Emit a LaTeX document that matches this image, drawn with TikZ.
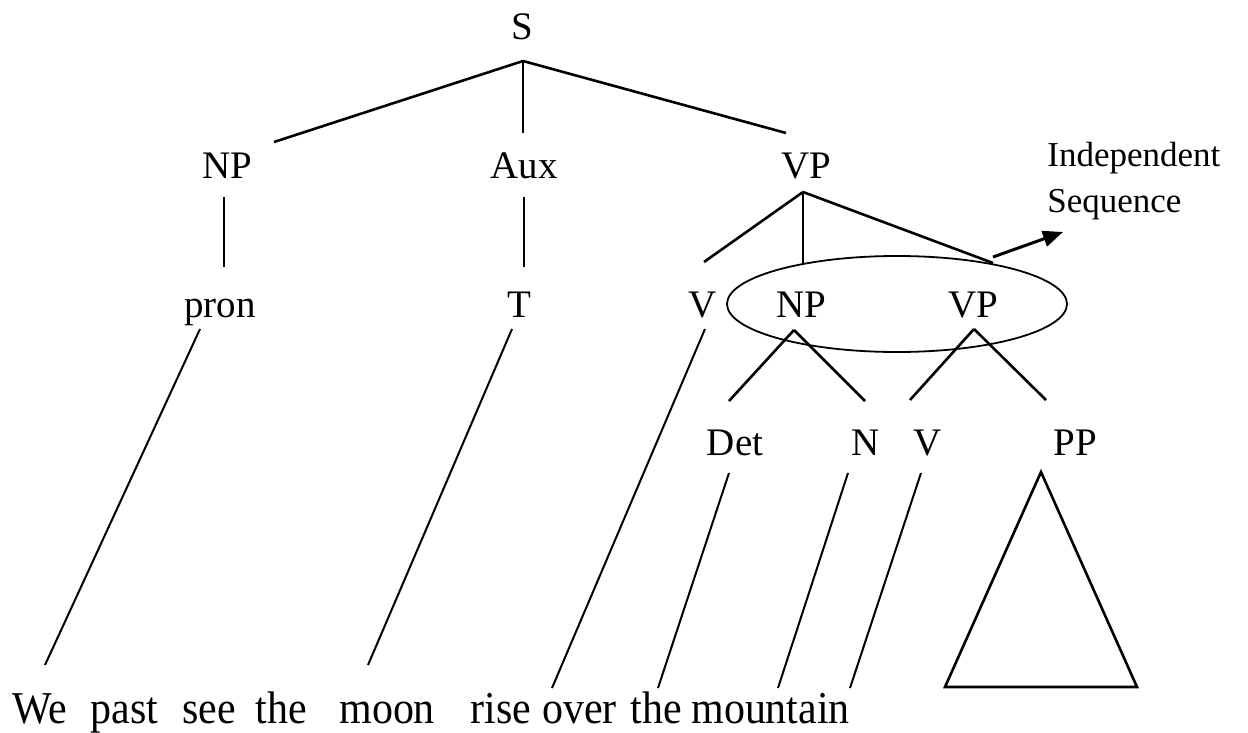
\documentclass[tikz,border=0pt]{standalone}
\usepackage{fontspec}
\setmainfont{Liberation Serif}
\newfontfamily\treefont{Liberation Serif}
\newfontfamily\wordfont[FakeStretch=0.92]{Liberation Serif}
\usetikzlibrary{arrows.meta}

\begin{document}
\begin{tikzpicture}[x=0.5pt,y=-0.5pt]

  \useasboundingbox (0,0) rectangle (1248,733);

  \tikzstyle{cat}=[inner sep=0pt,anchor=base,
                   font=\treefont\fontsize{19.5}{22}\selectfont];
  \tikzstyle{word}=[inner sep=0pt,anchor=base west,
                    font=\wordfont\fontsize{22.8}{26}\selectfont];
  \tikzstyle{note}=[inner sep=0pt,anchor=north west,align=left,
                    font=\treefont\fontsize{17.5}{23}\selectfont];
  \tikzstyle{branch}=[line width=1.3pt];
  \tikzstyle{link}=[line width=1pt];

  % attachment points of the branches
  \coordinate (S-dn) at (523,61);
  \coordinate (NP-up) at (274,142);
  \coordinate (Aux-up) at (523,133);
  \coordinate (VP-up) at (786,133);
  \coordinate (NP-dn) at (224,197);
  \coordinate (Pron-up) at (224,267);
  \coordinate (Aux-dn) at (524,197);
  \coordinate (T-up) at (524,267);
  \coordinate (VP-dn) at (803,192);
  \coordinate (V-up) at (704,262);
  \coordinate (NPb-up) at (803,263);
  \coordinate (Seq-up) at (993,263);
  \coordinate (Seq-out) at (993,257);
  \coordinate (Note-in) at (1063,232);
  \coordinate (NPb-dn) at (794,330);
  \coordinate (Det-up) at (729,401);
  \coordinate (N-up) at (865,401);
  \coordinate (VPb-dn) at (974,329);
  \coordinate (Vb-up) at (910,400);
  \coordinate (PP-up) at (1046,400);

  \coordinate (Pron-dn) at (200,329);
  \coordinate (T-dn) at (512,329);
  \coordinate (V-dn) at (705,329);
  \coordinate (Det-dn) at (729,473);
  \coordinate (N-dn) at (848,473);
  \coordinate (Vb-dn) at (921,473);
  \coordinate (We-up) at (45,665);
  \coordinate (Moon-up) at (368,665);
  \coordinate (Rise-up) at (552,688);
  \coordinate (The-up) at (658,688);
  \coordinate (Mtn-up) at (778,688);
  \coordinate (Mtn-up2) at (850,688);

  % categories
  \node[cat] (S) at (522,40) {S};
  \node[cat] (NP) at (227,178) {NP};
  \node[cat] (Aux) at (524,178) {Aux};
  \node[cat] (VP) at (806,178) {VP};
  \node[cat] (Pron) at (220,317) {pron};
  \node[cat] (T) at (519,317) {T};
  \node[cat] (V) at (703,317) {V};
  \node[cat] (NPb) at (801,317) {NP};
  \node[cat] (VPb) at (973,317) {VP};
  \node[cat] (Det) at (735,455) {Det};
  \node[cat] (N) at (866,455) {N};
  \node[cat] (Vb) at (928,455) {V};
  \node[cat] (PP) at (1075,455) {PP};

  \node[note] (Note) at (1047,142) {Independent\\Sequence};

  % the sentence
  \node[word] (W1) at (12,723) {We};
  \node[word] (W2) at (90,723) {past};
  \node[word] (W3) at (182,723) {see};
  \node[word] (W4) at (255,723) {the};
  \node[word] (W5) at (339,723) {moon};
  \node[word] (W6) at (470,723) {rise};
  \node[word] (W7) at (542,723) {over};
  \node[word] (W8) at (630,723) {the};
  \node[word] (W9) at (691,723) {mountain};

  % tree branches
  \draw[branch] (S-dn) -- (NP-up);
  \draw[branch] (S-dn) -- (Aux-up);
  \draw[branch] (S-dn) -- (VP-up);
  \draw[branch] (NP-dn) -- (Pron-up);
  \draw[branch] (Aux-dn) -- (T-up);
  \draw[branch] (VP-dn) -- (V-up);
  \draw[branch] (VP-dn) -- (NPb-up);
  \draw[branch] (VP-dn) -- (Seq-up);
  \draw[branch] (NPb-dn) -- (Det-up);
  \draw[branch] (NPb-dn) -- (N-up);
  \draw[branch] (VPb-dn) -- (Vb-up);
  \draw[branch] (VPb-dn) -- (PP-up);

  % NP VP grouped as one sequence
  \draw[line width=0.9pt] (897,304) ellipse [x radius=170,y radius=48];
  \draw[->,line width=1.5pt,>={Triangle[length=10pt,width=8pt]}]
                   (Seq-out) -- (Note-in);

  % down to the words
  \draw[link] (Pron-dn) -- (We-up);
  \draw[link] (T-dn) -- (Moon-up);
  \draw[link] (V-dn) -- (Rise-up);
  \draw[link] (Det-dn) -- (The-up);
  \draw[link] (N-dn) -- (Mtn-up);
  \draw[link] (Vb-dn) -- (Mtn-up2);

  % PP left unanalysed
  \draw[branch] (1041,472) -- (945,687) -- (1137,687) -- cycle;

\end{tikzpicture}
\end{document}
